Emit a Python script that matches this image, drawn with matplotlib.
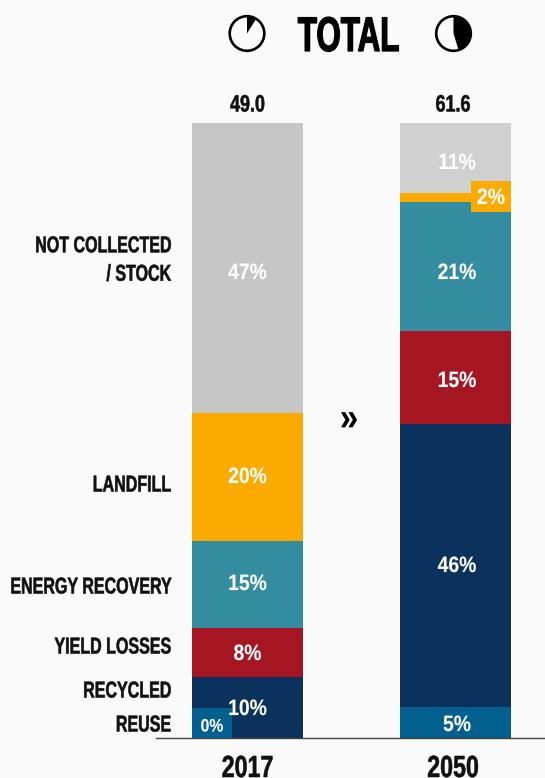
import matplotlib
matplotlib.use('Agg')
from matplotlib import pyplot as plt
from matplotlib.patches import Circle, Wedge, Rectangle
from matplotlib.patheffects import AbstractPathEffect
from matplotlib.text import Text
from matplotlib.transforms import Affine2D
import numpy as np

years = ['2017', '2050']
totals = ['49.0', '61.6']
# stacked bottom to top, heights
reuse = [0.0, 5.0]
recycled = [9.9, 46.0]
yield_losses = [8.0, 15.1]
energy = [14.1, 21.0]
landfill = [20.8, 1.5]
not_collected = [47.2, 11.4]

colors = ['#035f8d', '#0a325c', '#a51522', '#338ca0', '#fbab00', '#c9caca']
labels = ['RECYCLED', 'YIELD LOSSES', 'ENERGY RECOVERY', 'LANDFILL', 'NOT COLLECTED\n/ STOCK', 'REUSE']
pct_2017 = ['0%', '10%', '8%', '15%', '20%', '47%']
pct_2050 = ['5%', '46%', '15%', '21%', '2%', '11%']

W, H = 545, 778
BG = '#fafafa'
plt.rcParams['font.family'] = ['Liberation Sans']


class Squeeze(AbstractPathEffect):
    # no condensed font installed, so narrow the glyphs around the anchor
    def __init__(self, x0, sx, stroke):
        super().__init__()
        self.squash = Affine2D().translate(-x0, 0).scale(sx, 1).translate(x0, 0)
        self.stroke = stroke

    def draw_path(self, renderer, gc, tpath, affine, rgbFace=None):
        gc0 = renderer.new_gc()
        gc0.copy_properties(gc)
        gc0.set_linewidth(self.stroke)
        gc0.set_foreground(rgbFace)
        renderer.draw_path(gc0, tpath, affine + self.squash, rgbFace)
        gc0.restore()


class NarrowText(Text):
    sx = 1.0

    def get_window_extent(self, renderer=None, dpi=None):
        bb = super().get_window_extent(renderer, dpi)
        x0 = self.get_position()[0]
        return bb.transformed(Affine2D().translate(-x0, 0).scale(self.sx, 1).translate(x0, 0))


fig = plt.figure(figsize=(W / 100, H / 100), dpi=100, facecolor=BG)

# bars: 100% = 615 px, baseline at y=738 px
ax = fig.add_axes([0, 0, 1, 1])
ax.set_facecolor(BG)
unit = 208.0
ax.set_xlim(-247.5 / unit, (W - 247.5) / unit)
ax.set_ylim(-(H - 738) / 6.15, 738 / 6.15)
ax.axis('off')

x = np.arange(2)
bottom = np.zeros(2)
series = [reuse, recycled, yield_losses, energy, landfill, not_collected]
for vals, c in zip(series, colors):
    bars = ax.bar(x, vals, 111 / unit, bottom=bottom, color=c, linewidth=0)
    bottom += np.array(vals)
bars[1].set_facecolor('#cfd0cf')
bars[0].set_facecolor('#c5c6c5')

# everything else in pixel coordinates
pix = fig.add_axes([0, 0, 1, 1])
pix.set_xlim(0, W)
pix.set_ylim(H, 0)
pix.axis('off')
pix.patch.set_alpha(0)


def put(px, py, s, size, sx, color='#111111', ha='center', stroke=0.4, **kw):
    t = NarrowText(px, py, s, fontsize=size, fontweight='bold', color=color, ha=ha,
                   va=kw.pop('va', 'center_baseline'), **kw)
    t.sx = sx
    t.set_path_effects([Squeeze(px, sx, stroke)])
    pix.add_artist(t)


pix.plot([156, 545], [738, 738], color='#444444', lw=1.0, zorder=1)
pix.add_patch(Rectangle((192, 708), 40, 30, color=colors[0], lw=0))
pix.add_patch(Rectangle((471, 181), 40, 31, color=colors[4], lw=0))

# icons
pix.add_patch(Circle((247, 33.5), 17.3, fc='none', ec='black', lw=1.9))
pix.add_patch(Wedge((247, 33.5), 17.3, -90, -58, fc='black', ec='none'))
pix.add_patch(Circle((453.5, 33.5), 17.3, fc='none', ec='black', lw=1.9))
pix.add_patch(Wedge((453.5, 33.5), 17.3, -90, 73, fc='black', ec='none'))

put(348.5, 33.5, 'TOTAL', 35, 0.645, color='black', stroke=0.9)

for xc, t in zip([247.5, 453], totals):
    put(xc, 102.5, t, 17, 0.76)
for xc, t in zip([247.5, 453], years):
    put(xc, 765.5, t, 22, 0.76)

pos_2017 = [(212, 725), (247.5, 707), (247.5, 652), (247.5, 582), (247.5, 475), (247.5, 271)]
pos_2050 = [(457, 723), (457, 564), (457, 379), (457, 271), (491, 196), (457, 161)]
for p, (px, py) in zip(pct_2017, pos_2017):
    put(px, py, p, 13 if p == '0%' else 16, 0.87, color='white', stroke=0.1)
for p, (px, py) in zip(pct_2050, pos_2050):
    put(px, py, p, 16, 0.87, color='white', stroke=0.1)

label_y = [691, 647, 587, 485, 260, 725]
for lab, y in zip(labels, label_y):
    put(171, y, lab, 16.5, 0.70, ha='right', va='center', linespacing=1.3, multialignment='right')

# chevrons
put(349, 416, '»', 28, 0.85, color='black', stroke=0.0)

fig.savefig('out.png', dpi=100, facecolor=BG)
